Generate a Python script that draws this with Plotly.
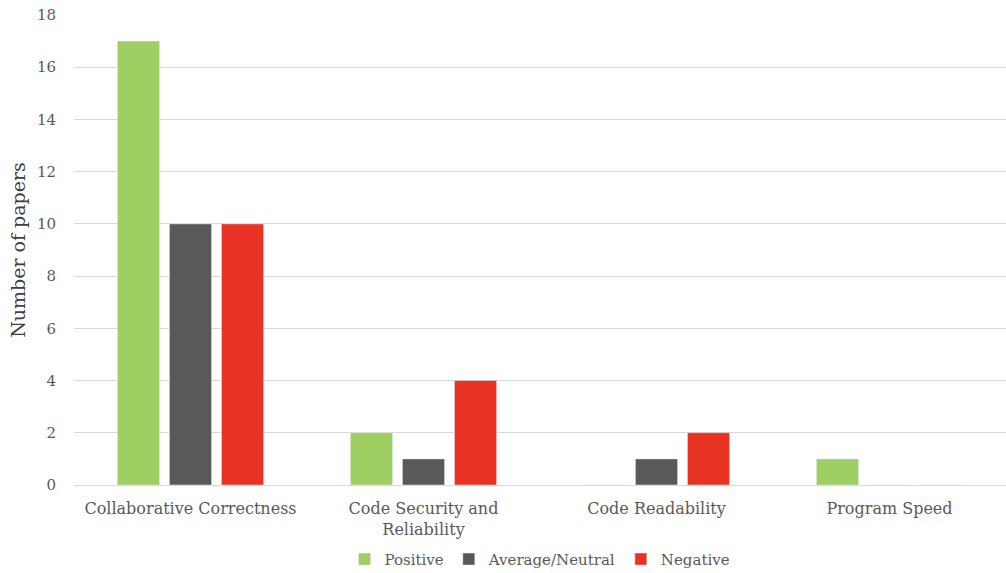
import plotly.graph_objects as go

categories = ["Collaborative Correctness", "Code Security and<br>Reliability", "Code Readability", "Program Speed"]
positive = [17, 2, 0, 1]
neutral = [10, 1, 1, 0]
negative = [10, 4, 2, 0]
y_ticks = [0, 2, 4, 6, 8, 10, 12, 14, 16, 18]

FONT = "DejaVu Serif"
TXT = "#595959"

fig = go.Figure()
fig.add_trace(go.Bar(name="Positive", x=categories, y=positive, marker_color="#9FCE62"))
fig.add_trace(go.Bar(name="Average/Neutral", x=categories, y=neutral, marker_color="#595959"))
fig.add_trace(go.Bar(name="Negative", x=categories, y=negative, marker_color="#E83324"))

fig.update_layout(
    width=1006, height=573,
    margin=dict(l=74, r=0, t=15, b=88, autoexpand=False),
    paper_bgcolor="white", plot_bgcolor="white",
    barmode="group", bargap=0.33, bargroupgap=0.19,
    font=dict(family=FONT, size=16, color=TXT),
    legend=dict(orientation="h", x=0.5, xanchor="center", y=-0.123, yanchor="top",
                font=dict(size=15, color=TXT), traceorder="normal", itemwidth=30),
    showlegend=True,
)
fig.update_xaxes(showgrid=False, showline=True, linecolor="#D9D9D9", linewidth=1,
                 automargin=False, ticks="", ticklabelstandoff=9, tickfont=dict(size=16, color=TXT))
fig.update_yaxes(range=[0, 18], tickvals=y_ticks, showgrid=True, gridcolor="#D9D9D9",
                 automargin=False, zeroline=False, showline=False, ticks="", ticklabelstandoff=17,
                 tickfont=dict(size=15, color=TXT),
                 title=dict(text="Number of papers", font=dict(size=19, color="#404040"), standoff=6))

fig.write_html("out.html", config={"displayModeBar": False},
               post_script="document.body.style.margin='0';document.body.style.overflow='hidden';")
